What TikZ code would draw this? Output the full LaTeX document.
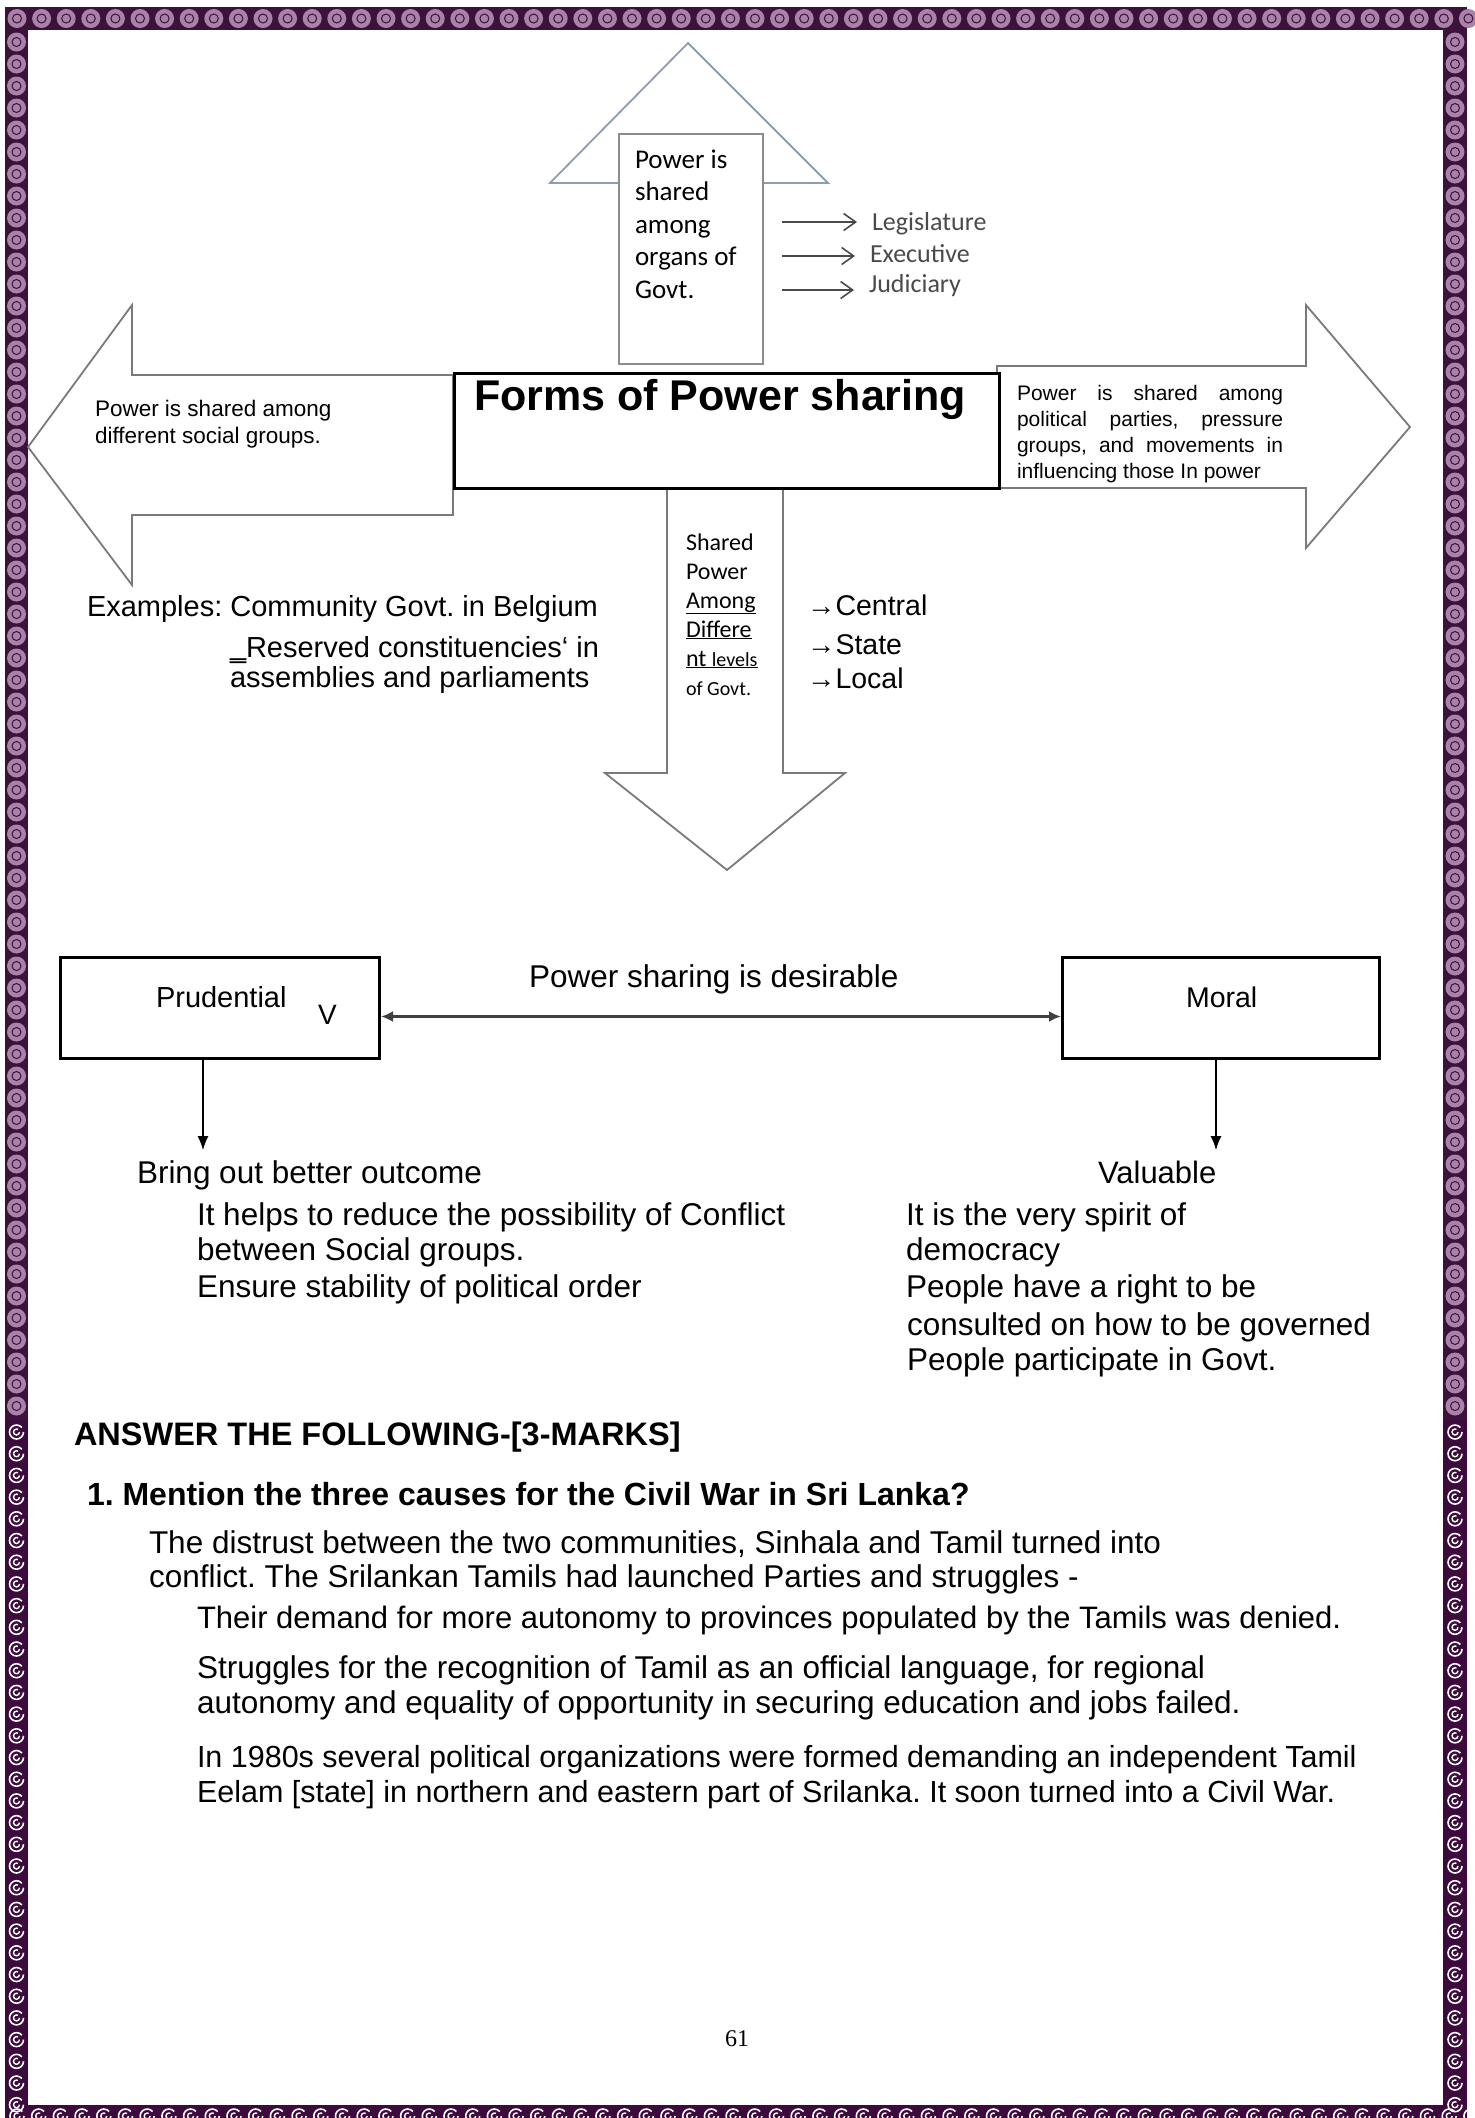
\documentclass[tikz,border=0pt]{standalone}
\usepackage{fontspec}
\setmainfont{Liberation Sans}
\newfontfamily\calib{Carlito}
\newfontfamily\tnr{Liberation Serif}
\usetikzlibrary{arrows.meta}
\definecolor{bordDark}{HTML}{3A123A}
\definecolor{bordLight}{HTML}{A981A9}
\definecolor{spiralBg}{HTML}{3C0A3C}
\definecolor{arrowGray}{HTML}{7A7A7A}
\definecolor{upArrow}{HTML}{8E9DB2}
\definecolor{boxGray}{HTML}{8C8C8C}
\definecolor{legGray}{HTML}{4A4A4A}
\newcommand\fsz[2]{\fontsize{#1}{#2}\selectfont}
\frenchspacing
\begin{document}
\frenchspacing
\begin{tikzpicture}[x=1pt,y=-1pt,
  txt/.style={inner sep=0pt, outer sep=0pt, anchor=base west},
  blockarrow/.style={draw=arrowGray, line width=1.8pt, line join=miter, fill=white},
  thickbox/.style={draw=black, line width=3pt, fill=white, inner sep=0pt, anchor=north west},
  legarrow/.style={draw=legGray, line width=1.6pt, -{Straight Barb[length=12pt,width=17pt,line width=1.6pt]}, shorten >=15pt},
  dblarrow/.style={draw=black!75, line width=3pt, {Latex[length=12pt,width=11pt]}-{Latex[length=12pt,width=11pt]}},
  downarrow/.style={draw=black, line width=1.2pt, -{Latex[length=14pt,width=11pt]}}
]
\useasboundingbox (0,0) rectangle (1475,2118);
\fill[white] (0,0) rectangle (1475,2118);

% ---------- page border ----------
\fill[bordDark] (5,7) rectangle (1467,30);
\fill[bordDark] (5,30) rectangle (28,1420);
\fill[bordDark] (1443,30) rectangle (1467,1420);
\foreach \i in {0,...,59} {
  \fill[bordLight] ({17+\i*24.6},18.5) circle (9.5);
  \draw[bordDark,line width=1pt] ({17+\i*24.6},18.5) circle (4.5);
}
\foreach \j in {0,...,62} {
  \fill[bordLight] (16.5,{42+\j*22}) circle (9.5);
  \draw[bordDark,line width=1pt] (16.5,{42+\j*22}) circle (4.5);
  \fill[bordLight] (1455,{42+\j*22}) circle (9.5);
  \draw[bordDark,line width=1pt] (1455,{42+\j*22}) circle (4.5);
}
\fill[spiralBg] (5,1420) rectangle (28,2118);
\fill[spiralBg] (1443,1420) rectangle (1467,2118);
\fill[spiralBg] (5,2105) rectangle (1467,2118);
\foreach \j in {0,...,31} {
  \draw[white,line width=1.6pt] ({16.5+7},{1432+\j*21.7}) arc[start angle=0,end angle=320,radius=7];
  \draw[white,line width=1.4pt] ({16.5+3},{1432+\j*21.7}) arc[start angle=0,end angle=300,radius=3];
  \draw[white,line width=1.6pt] ({1455+7},{1432+\j*21.7}) arc[start angle=0,end angle=320,radius=7];
  \draw[white,line width=1.4pt] ({1455+3},{1432+\j*21.7}) arc[start angle=0,end angle=300,radius=3];
}
\foreach \i in {0,...,67} {
  \draw[white,line width=1.6pt] ({17+\i*21.7+7},2116) arc[start angle=0,end angle=320,radius=7];
  \draw[white,line width=1.4pt] ({17+\i*21.7+3},2116) arc[start angle=0,end angle=300,radius=3];
}

% ---------- block arrows ----------
\draw[blockarrow] (453,375) -- (132,375) -- (132,305) -- (28,447) -- (132,585) -- (132,515) -- (453,515) -- cycle;
\draw[blockarrow] (997,366) -- (1306,366) -- (1306,305) -- (1410,427) -- (1306,548) -- (1306,488) -- (997,488) -- cycle;
\draw[blockarrow] (667,487) -- (667,773) -- (605,773) -- (727,870) -- (845,773) -- (783,773) -- (783,487) -- cycle;
\draw[draw=upArrow, line width=1.8pt, line join=miter, fill=white] (550,183) -- (688,43) -- (828,183) -- cycle;

% ---------- boxes ----------
\node[draw=boxGray, line width=1.5pt, fill=white, inner sep=0pt, anchor=north west, minimum width=144pt, minimum height=230pt] (organs) at (618,133) {};
\node[thickbox, minimum width=545pt, minimum height=115pt] (forms) at (453,372) {};

% ---------- texts of the top diagram ----------
\node[txt] (formsT) at (474,410) {\fsz{43}{43}\bfseries Forms of Power sharing};

\node[txt] (orgT) at (635,168) {\parbox[t]{120pt}{\raggedright\calib\fsz{27}{32.5}Power is\\shared\\among\\organs of\\Govt.}};

\node[txt, text=legGray] (leg) at (872,230) {\calib\fsz{26}{26}Legislature};
\node[txt, text=legGray] (exe) at (870,262) {\calib\fsz{26}{26}Executive};
\node[txt, text=legGray] (jud) at (869,292) {\calib\fsz{26}{26}Judiciary};
\coordinate (l1) at (782,222);
\coordinate (l2) at (782,256);
\coordinate (l3) at (782,290);
\draw[legarrow] (l1) -- (l1 -| leg.west);
\draw[legarrow] (l2) -- (l2 -| exe.west);
\draw[legarrow] (l3) -- (l3 -| jud.west);

\node[txt] (socT) at (95,416) {\parbox[t]{300pt}{\raggedright\fsz{22.5}{27}Power is shared among\\different social groups.}};

\node[txt] (polT) at (1017,400) {\parbox[t]{266pt}{\frenchspacing\fsz{21}{26.3}Power is shared among\linebreak political parties, pressure\linebreak groups, and movements in\linebreak influencing those In power}};

\node[txt] (lvlT) at (686,550) {\parbox[t]{95pt}{\raggedright\calib\fsz{24}{29}Shared\\Power\\\underline{Among}\\\underline{Differe}\\\underline{nt {\fsz{20}{29}levels}}\\{\fsz{20}{29}of Govt.}}};

\node[txt] (cen) at (807,615) {\fsz{28.5}{28.5}→Central};
\node[txt] (sta) at (807,654) {\fsz{28.5}{28.5}→State};
\node[txt] (loc) at (807,688) {\fsz{28.5}{28.5}→Local};

\node[txt] (ex1) at (87,616) {\fsz{29}{29}Examples: Community Govt. in Belgium};
\node[txt] (ex2) at (230,657) {\fsz{29}{29}‗Reserved constituencies‘ in};
\node[txt] (ex3) at (230,687) {\fsz{29}{29}assemblies and parliaments};

% ---------- desirable diagram ----------
\node[thickbox, minimum width=319pt, minimum height=101pt] (prud) at (59,956) {};
\node[thickbox, minimum width=317pt, minimum height=101pt] (moral) at (1061,956) {};
\node[txt] (prudT) at (156,1007) {\fsz{29}{29}Prudential};
\node[txt] (vT) at (318,1024) {\fsz{28}{28}V};
\node[txt] (moralT) at (1186,1007) {\fsz{28.5}{28.5}Moral};
\node[txt] (desT) at (529,987) {\fsz{31.5}{31.5}Power sharing is desirable};
\draw[dblarrow] ([yshift=-8.5pt]prud.east) -- ([yshift=-8.5pt]moral.west);

\coordinate (pEnd) at (203,1150);
\coordinate (mEnd) at (1216,1150);
\draw[downarrow] (prud.south -| pEnd) -- (pEnd);
\draw[downarrow] (moral.south -| mEnd) -- (mEnd);

\node[txt] (bring) at (137,1183) {\fsz{31.5}{31.5}Bring out better outcome};
\node[txt] (valu) at (1098,1183) {\fsz{31}{31}Valuable};

\node[txt] (p1) at (197,1225) {\fsz{31.5}{31.5}It helps to reduce the possibility of Conflict};
\node[txt] (p2) at (197,1260) {\fsz{31.5}{31.5}between Social groups.};
\node[txt] (p3) at (197,1297) {\fsz{31.5}{31.5}Ensure stability of political order};

\node[txt] (m1) at (906,1225) {\fsz{31.5}{31.5}It is the very spirit of};
\node[txt] (m2) at (906,1260) {\fsz{31.5}{31.5}democracy};
\node[txt] (m3) at (906,1297) {\fsz{31.5}{31.5}People have a right to be};
\node[txt] (m4) at (907,1335) {\fsz{31.5}{31.5}consulted on how to be governed};
\node[txt] (m5) at (907,1370) {\fsz{31.5}{31.5}People participate in Govt.};

% ---------- question ----------
\node[txt] (ans) at (74,1445) {\fsz{32.5}{32.5}\bfseries ANSWER THE FOLLOWING-[3-MARKS]};
\node[txt] (q1) at (87,1505) {\fsz{32}{32}\bfseries 1. Mention the three causes for the Civil War in Sri Lanka?};

\node[txt] (a1) at (149,1553) {\fsz{31.5}{31.5}The distrust between the two communities, Sinhala and Tamil turned into};
\node[txt] (a2) at (149,1587) {\fsz{31.5}{31.5}conflict. The Srilankan Tamils had launched Parties and struggles -};
\node[txt] (a3) at (197,1628) {\fsz{31}{31}Their demand for more autonomy to provinces populated by the Tamils was denied.};
\node[txt] (a4) at (197,1678) {\fsz{31.5}{31.5}Struggles for the recognition of Tamil as an official language, for regional};
\node[txt] (a5) at (197,1713) {\fsz{31.5}{31.5}autonomy and equality of opportunity in securing education and jobs failed.};
\node[txt] (a6) at (197,1767) {\fsz{30.5}{30.5}In 1980s several political organizations were formed demanding an independent Tamil};
\node[txt] (a7) at (197,1802) {\fsz{30.5}{30.5}Eelam [state] in northern and eastern part of Srilanka. It soon turned into a Civil War.};

\node[inner sep=0pt, anchor=base] (pg) at (737,2046) {\tnr\fsz{24}{24}61};
\end{tikzpicture}
\end{document}
